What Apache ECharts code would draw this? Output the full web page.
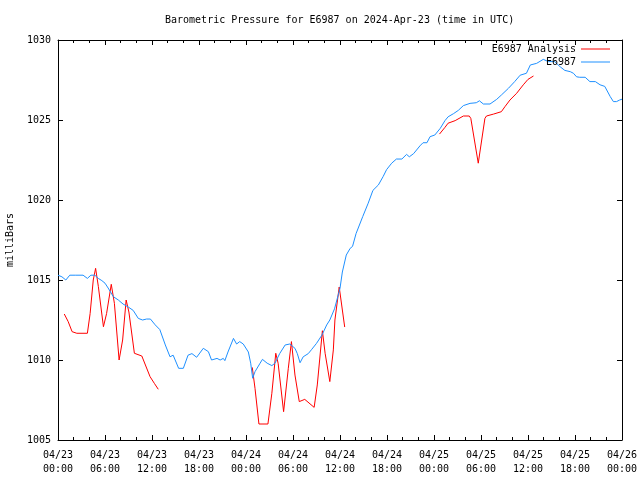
<!DOCTYPE html>
<html>
<head>
<meta charset="utf-8">
<script src="https://cdn.jsdelivr.net/npm/echarts@6/dist/echarts.min.js"></script>
<style>html,body{margin:0;padding:0;background:#fff}#c{width:640px;height:480px}</style>
</head>
<body>
<div id="c"></div>
<script>
// hours since 2024-04-23 00:00 UTC
const obsHours = [0.0,0.5,1.0,1.5,2.2,3.2,3.75,4.2,4.7,5.15,5.6,6.0,6.4,7.06,7.7,8.3,9.0,9.6,10.25,10.8,11.3,11.8,12.4,13.0,13.7,14.3,14.7,15.4,16.0,16.6,17.1,17.7,18.55,19.2,19.6,20.3,20.7,21.1,21.3,21.7,22.4,22.8,23.2,23.65,24.3,24.6,24.85,25.15,25.8,26.1,26.7,27.3,27.7,28.3,29.0,29.6,30.25,30.55,30.9,31.3,31.95,32.4,33.0,33.7,34.3,34.7,35.3,36.0,36.3,36.8,37.3,37.6,38.05,38.9,39.6,40.2,40.9,41.5,41.95,42.6,43.2,43.9,44.5,44.85,45.4,46.2,46.6,47.1,47.5,48.1,48.8,49.4,49.8,50.5,51.1,51.75,52.6,53.4,53.8,54.3,55.15,56.0,56.6,57.5,58.3,59.0,59.8,60.3,61.1,61.95,62.6,63.4,64.1,64.7,65.4,65.8,66.2,66.6,67.3,67.9,68.6,69.2,69.8,70.5,70.9,71.3,71.7,72.0];
const obsValues = [1015.3,1015.2,1015.0,1015.3,1015.3,1015.3,1015.1,1015.3,1015.3,1015.1,1014.96,1014.8,1014.5,1013.96,1013.75,1013.5,1013.3,1013.1,1012.6,1012.5,1012.56,1012.56,1012.2,1011.9,1010.94,1010.2,1010.3,1009.48,1009.48,1010.3,1010.4,1010.17,1010.73,1010.52,1010.0,1010.1,1010.0,1010.1,1009.96,1010.5,1011.35,1011.0,1011.15,1011.0,1010.5,1009.8,1008.86,1009.27,1009.8,1010.04,1009.8,1009.65,1009.8,1010.4,1010.94,1011.0,1010.73,1010.4,1009.83,1010.2,1010.4,1010.67,1011.04,1011.56,1012.19,1012.5,1013.2,1014.48,1015.5,1016.56,1016.98,1017.1,1017.9,1018.96,1019.8,1020.6,1020.94,1021.46,1021.9,1022.3,1022.56,1022.56,1022.85,1022.7,1022.9,1023.38,1023.58,1023.58,1023.96,1024.06,1024.48,1024.96,1025.2,1025.4,1025.6,1025.9,1026.04,1026.08,1026.2,1026.0,1026.0,1026.29,1026.56,1026.98,1027.4,1027.8,1027.92,1028.44,1028.54,1028.79,1028.65,1028.65,1028.33,1028.1,1028.02,1027.92,1027.7,1027.67,1027.67,1027.4,1027.4,1027.2,1027.1,1026.46,1026.15,1026.15,1026.25,1026.3];

const anaHours = [0.8,1.3,1.8,2.4,3.75,4.1,4.5,4.8,5.15,5.8,6.2,6.8,7.2,7.8,8.25,8.7,9.05,9.75,10.7,10.9,11.75,12.3,12.8,18.0,24.8,25.15,25.65,26.8,27.3,27.8,28.1,28.8,29.4,29.8,30.25,30.8,31.5,32.7,33.1,33.75,34.1,34.7,35.15,35.35,35.9,36.6,42.0,48.7,49.4,49.8,50.7,51.75,52.5,52.7,53.65,54.5,54.7,55.6,56.6,57.05,57.7,58.55,59.4,60.0,60.7];
const anaValues = [1012.875,1012.4,1011.77,1011.67,1011.67,1012.9,1015.0,1015.73,1014.6,1012.08,1012.9,1014.73,1013.54,1010.0,1011.25,1013.75,1013.0,1010.42,1010.25,1010.2,1008.96,1008.54,1008.17,null,1009.54,1008.23,1006.0,1006.0,1007.92,1010.42,1009.8,1006.77,1009.48,1011.15,1009.06,1007.4,1007.54,1007.04,1008.44,1011.83,1010.42,1008.65,1010.63,1012.5,1014.56,1012.06,null,1024.12,1024.54,1024.8,1024.96,1025.25,1025.25,1025.1,1022.3,1025.1,1025.25,1025.37,1025.52,1025.83,1026.25,1026.67,1027.2,1027.54,1027.75];

const startDay = 23;
const titleText = 'Barometric Pressure for E6987 on 2024-Apr-23 (time in UTC)';
const yName = 'milliBars';

const FONT = 'DejaVu Sans Mono';
function pad(n){return (n<10?'0':'')+n;}
function fmtHour(v){
  const d = startDay + Math.floor(v/24);
  const h = Math.round(v % 24);
  return '04/' + pad(d) + '\n' + pad(h) + ':00';
}
const xCommon = {
  type:'value', min:0, max:72, interval:6,
  axisLine:{show:true, onZero:false, lineStyle:{color:'#000', width:1}},
  axisTick:{show:true, inside:true, length:5, lineStyle:{color:'#000'}},
  minorTick:{show:true, splitNumber:3, length:3, lineStyle:{color:'#000'}},
  splitLine:{show:false}
};
const yCommon = {
  type:'value', min:1005, max:1030, interval:5,
  axisLine:{show:true, onZero:false, lineStyle:{color:'#000', width:1}},
  axisTick:{show:true, inside:true, length:5, lineStyle:{color:'#000'}},
  splitLine:{show:false}
};
const chart = echarts.init(document.getElementById('c'), null, {renderer:'canvas'});
chart.setOption({
  animation:false,
  backgroundColor:'#fff',
  title:{text:titleText, left:165, top:15, padding:0, textStyle:{fontFamily:FONT, fontSize:10, fontWeight:'normal', color:'#000'}},
  legend:[
    {data:['E6987 Analysis'], right:30, top:44, padding:0, align:'right', icon:'rect', itemWidth:29, itemHeight:1, itemGap:0,
     textStyle:{fontFamily:FONT, fontSize:10, color:'#000'}},
    {data:['E6987'], right:30, top:57, padding:0, align:'right', icon:'rect', itemWidth:29, itemHeight:1, itemGap:0,
     textStyle:{fontFamily:FONT, fontSize:10, color:'#000'}}
  ],
  grid:{left:58, right:18, top:40, bottom:40, containLabel:false, outerBoundsMode:'none'},
  xAxis:[
    Object.assign({}, xCommon, {position:'bottom',
      axisLabel:{show:true, margin:8, formatter:fmtHour, fontFamily:FONT, fontSize:10, color:'#000', lineHeight:14}}),
    Object.assign({}, xCommon, {position:'top', axisLabel:{show:false}})
  ],
  yAxis:[
    Object.assign({}, yCommon, {position:'left', name:yName, nameLocation:'middle', nameGap:43,
      nameTextStyle:{fontFamily:FONT, fontSize:10, color:'#000'},
      axisLabel:{show:true, margin:7, formatter:function(v){return String(v);}, fontFamily:FONT, fontSize:10, color:'#000'}}),
    Object.assign({}, yCommon, {position:'right', axisLabel:{show:false}})
  ],
  series:[
    {name:'E6987 Analysis', type:'line', xAxisIndex:0, yAxisIndex:0, showSymbol:false, symbol:'none',
     connectNulls:false, color:'#ff0000', lineStyle:{width:1, color:'#ff0000'},
     data: anaHours.map((h,i)=>[h, anaValues[i]])},
    {name:'E6987', type:'line', xAxisIndex:0, yAxisIndex:0, showSymbol:false, symbol:'none',
     color:'#1e90ff', lineStyle:{width:1, color:'#1e90ff'},
     data: obsHours.map((h,i)=>[h, obsValues[i]])}
  ]
});
</script>
</body>
</html>
